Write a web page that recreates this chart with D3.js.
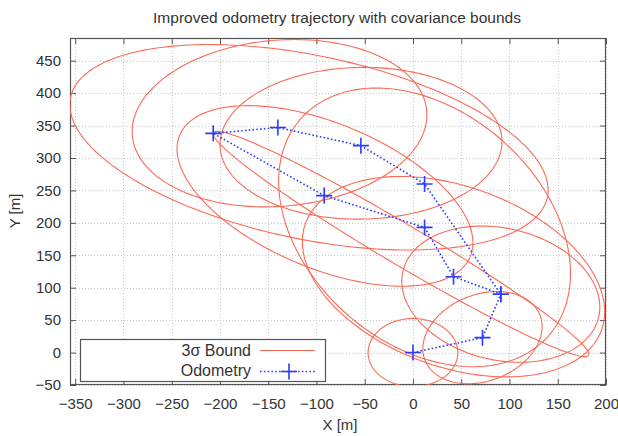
<!DOCTYPE html>
<html><head><meta charset="utf-8">
<script src="https://cdn.jsdelivr.net/npm/d3@7"></script>
<style>
body{margin:0;background:#fff}
text{font-family:"Liberation Sans",Arial,Helvetica,sans-serif;fill:#333}
</style>
</head><body>
<svg id="chart" width="618" height="436"></svg>
<script>
// Axis ticks
const xTickValues = [-350, -300, -250, -200, -150, -100, -50, 0, 50, 100, 150, 200];
const yTickValues = [-50, 0, 50, 100, 150, 200, 250, 300, 350, 400, 450];

// Odometry poses [m]
const odoX = [0, 72, 91, 42, 12, -92, -207, -140, -54, 12, 91];
const odoY = [0, 23, 90, 117, 193, 242, 338, 347, 319, 260, 90];

// Position covariance per ellipse: centre [m], std devs [m], correlation
const ellCx  = [0, 72, 91, 42, 12, -91.2, -107.8, -138.3, -53.9, -12.4];
const ellCy  = [0, 23, 90, 117, 193, 241.5, 316.5, 353.6, 322.7, 167.4];
const ellSx  = [15.5, 20.6, 34.2, 52.2, 50.4, 51.1, 82.6, 50.9, 48.7, 64.9];
const ellSy  = [17.5, 23.7, 35.0, 51.5, 71.6, 46.4, 52.8, 43.0, 39.0, 57.9];
const ellRho = [0, 0.24, -0.19, -0.35, -0.33, -0.52, -0.415, 0.1, 0.02, -0.978];

const plot = {left: 70, right: 606, top: 38, bottom: 385};

const svg = d3.select("#chart");
const x = d3.scaleLinear().domain([-355.4, 200]).range([plot.left, plot.right]);
const y = d3.scaleLinear().domain([-50, 485]).range([plot.bottom, plot.top]);

svg.append("defs").append("clipPath").attr("id", "clip")
  .append("rect").attr("x", plot.left).attr("y", plot.top)
  .attr("width", plot.right - plot.left).attr("height", plot.bottom - plot.top);

// grid
const grid = svg.append("g").attr("stroke", "#c8c8c8").attr("stroke-width", 1)
  .attr("stroke-dasharray", "1,2");
xTickValues.forEach(v => grid.append("line")
  .attr("x1", Math.round(x(v)) + 0.5).attr("x2", Math.round(x(v)) + 0.5)
  .attr("y1", plot.top).attr("y2", plot.bottom));
yTickValues.forEach(v => grid.append("line")
  .attr("y1", Math.round(y(v)) + 0.5).attr("y2", Math.round(y(v)) + 0.5)
  .attr("x1", plot.left).attr("x2", plot.right));

// axes with inward ticks, mirrored on all four sides
const tickLen = 6;
const axB = svg.append("g").attr("transform", `translate(0,${plot.bottom})`)
  .call(d3.axisBottom(x).tickValues(xTickValues).tickSizeInner(-tickLen).tickSizeOuter(0).tickPadding(13));
const axT = svg.append("g").attr("transform", `translate(0,${plot.top})`)
  .call(d3.axisTop(x).tickValues(xTickValues).tickSizeInner(-tickLen).tickSizeOuter(0).tickFormat(""));
const axL = svg.append("g").attr("transform", `translate(${plot.left},0)`)
  .call(d3.axisLeft(y).tickValues(yTickValues).tickSizeInner(-tickLen).tickSizeOuter(0).tickPadding(9));
const axR = svg.append("g").attr("transform", `translate(${plot.right},0)`)
  .call(d3.axisRight(y).tickValues(yTickValues).tickSizeInner(-tickLen).tickSizeOuter(0).tickFormat(""));
[axB, axT, axL, axR].forEach(a => {
  a.select(".domain").remove();
  a.selectAll("line").attr("stroke", "#555");
  a.selectAll("text").attr("font-size", 15).attr("fill", "#333")
    .attr("font-family", '"Liberation Sans",Arial,sans-serif');
});

// border
svg.append("rect").attr("x", plot.left + 0.5).attr("y", plot.top + 0.5)
  .attr("width", plot.right - plot.left - 1).attr("height", plot.bottom - plot.top - 1)
  .attr("fill", "none").attr("stroke", "#555").attr("stroke-width", 1.2);

// 3-sigma ellipses
const ellLine = d3.line().x(p => x(p[0])).y(p => y(p[1]));
const ellG = svg.append("g").attr("clip-path", "url(#clip)");
ellCx.forEach((cx, i) => {
  const sx = ellSx[i], sy = ellSy[i], r = ellRho[i];
  const pts = d3.range(0, 2 * Math.PI + 0.001, Math.PI / 120).map(t => [
    cx + 3 * sx * Math.cos(t),
    ellCy[i] + 3 * sy * (r * Math.cos(t) + Math.sqrt(1 - r * r) * Math.sin(t))
  ]);
  ellG.append("path").attr("d", ellLine(pts)).attr("fill", "none")
    .attr("stroke", "#fa6a58").attr("stroke-width", 1.1);
});

// odometry trajectory
const odo = odoX.map((v, i) => [v, odoY[i]]);
const trajG = svg.append("g").attr("clip-path", "url(#clip)");
trajG.append("path").attr("d", d3.line().x(p => x(p[0])).y(p => y(p[1]))(odo))
  .attr("fill", "none").attr("stroke", "#2a3cff").attr("stroke-width", 1.6)
  .attr("stroke-dasharray", "1.6,2.2");
const plus = (g, px, py) => g.append("path")
  .attr("d", `M${px - 8},${py}H${px + 8}M${px},${py - 8}V${py + 8}`)
  .attr("stroke", "#2a3cff").attr("stroke-width", 1.6);
odo.forEach(p => plus(trajG, x(p[0]), y(p[1])));

// legend
const lg = svg.append("g");
lg.append("rect").attr("x", 80.5).attr("y", 339.5).attr("width", 245).attr("height", 42)
  .attr("fill", "#fff").attr("stroke", "#555").attr("stroke-width", 1.2);
lg.append("text").attr("x", 251).attr("y", 356).attr("text-anchor", "end")
  .attr("font-size", 16).text("3σ Bound");
lg.append("line").attr("x1", 260).attr("x2", 315).attr("y1", 350.5).attr("y2", 350.5)
  .attr("stroke", "#fa6a58").attr("stroke-width", 1.1);
lg.append("text").attr("x", 251).attr("y", 376).attr("text-anchor", "end")
  .attr("font-size", 16).text("Odometry");
lg.append("line").attr("x1", 260).attr("x2", 315).attr("y1", 371.5).attr("y2", 371.5)
  .attr("stroke", "#2a3cff").attr("stroke-width", 1.6).attr("stroke-dasharray", "1.6,2.2");
plus(lg, 289, 371.5);

// titles
svg.append("text").attr("x", 337).attr("y", 23).attr("text-anchor", "middle")
  .attr("font-size", 15.5).text("Improved odometry trajectory with covariance bounds");
svg.append("text").attr("x", 340).attr("y", 430).attr("text-anchor", "middle")
  .attr("font-size", 15).text("X [m]");
svg.append("text").attr("transform", "translate(20,211) rotate(-90)")
  .attr("text-anchor", "middle").attr("font-size", 15).text("Y [m]");
</script>
</body></html>
